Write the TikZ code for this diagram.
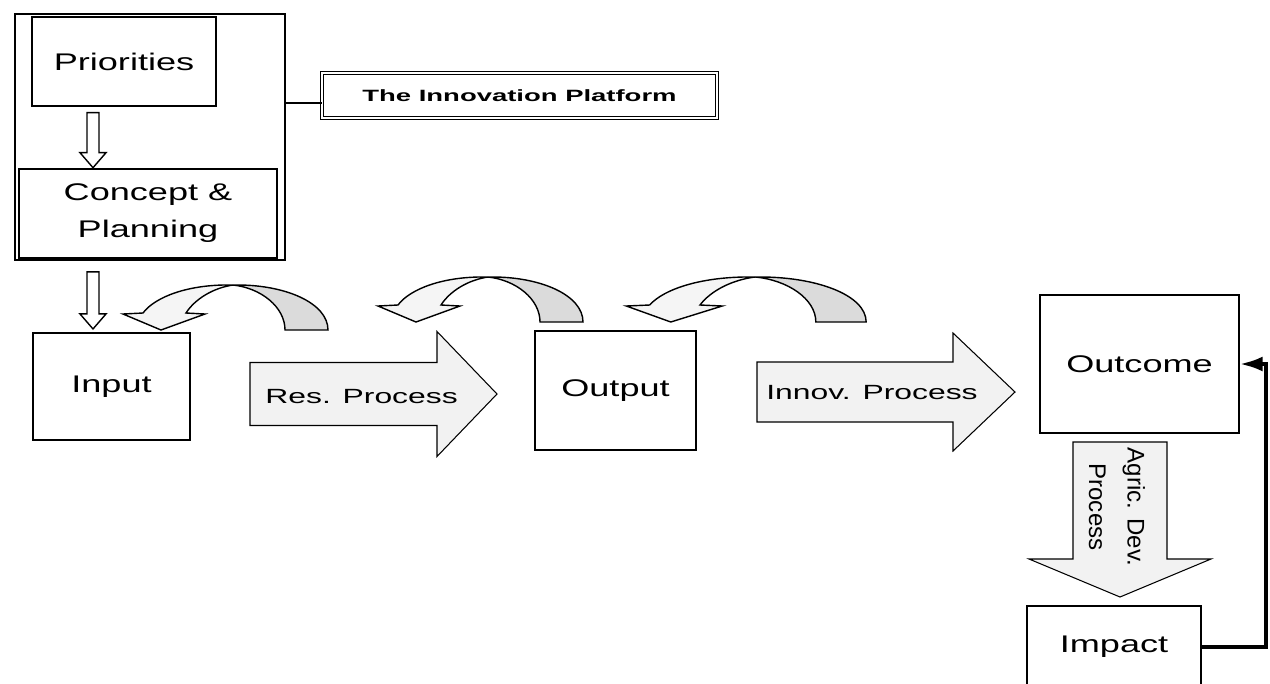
\documentclass[tikz,border=0pt]{standalone}
\usepackage{fontspec}
\setmainfont{Liberation Sans}
\usepackage{graphicx}
\usetikzlibrary{arrows.meta}
\newcommand{\wide}[2][1.5]{\scalebox{#1}[1]{#2}}

\begin{document}
\begin{tikzpicture}[x=0.02cm, y=-0.02cm,
    box/.style={draw, line width=0.8pt, inner sep=0pt, align=center,
      font=\fontsize{13.7}{21}\selectfont},
    proc/.style={inner sep=0pt, font=\fontsize{11.7}{14}\selectfont},
    flow/.style={draw, line width=0.6pt, fill=gray!10},
    hollow/.style={draw, line width=0.8pt, fill=white},
    pics/hollowdown/.style={code={
      \draw[hollow] (-6,0) -- (6,0) -- (6,#1-15) -- (13,#1-15) -- (0,#1)
        -- (-13,#1-15) -- (-6,#1-15) -- cycle;}},
    pics/block/.style n args={4}{code={
      \draw[flow] (0,-#2) -- (#1,-#2) -- (#1,-#3) -- (#1+#4,0) -- (#1,#3)
        -- (#1,#2) -- (0,#2) -- cycle;}},
    pics/loopback/.style={code={
      \draw[line width=0.8pt, fill=gray!28] (0,0) .. controls (52,-1) and (95,18) .. (95,45)
        -- (52,45) .. controls (52,22) and (28,3) .. (0,0) -- cycle;
      \draw[line width=0.8pt, fill=gray!8] (0,0) .. controls (-45,-1) and (-78,12) .. (-90,28)
        -- (-110,29) -- (-72,45) -- (-28,29) -- (-47,28)
        .. controls (-38,14) and (-20,3) .. (0,0) -- cycle;}}]

\useasboundingbox (0,0) rectangle (1270,683);
\clip (0,0) rectangle (1270,683);

\node[box, line width=1.1pt, minimum width=5.4cm, minimum height=4.92cm] (frame) at (150,137) {};
\node[box, minimum width=3.68cm, minimum height=1.78cm] (prio) at (124,61.5) {\wide{Priorities}};
\node[box, minimum width=5.16cm, minimum height=1.78cm] (concept) at (148,213.5)
  {\wide{Concept \&}\\\wide{Planning}};
\node[draw, double, double distance=1.2pt, line width=0.7pt, inner sep=0pt,
  minimum width=7.9cm, minimum height=0.9cm, font=\bfseries\fontsize{9.3}{11}\selectfont]
  (platform) at (519.5,95.5) {\wide[1.68]{The Innovation Platform}};
\coordinate (link) at (322,103);
\draw[line width=0.8pt] (frame.east |- link) -- (link);

\coordinate (lane) at (93,0);
\pic at ([yshift=-0.12cm]prio.south -| lane) {hollowdown=55};
\pic at ([yshift=-0.22cm]frame.south -| lane) {hollowdown=57};

\node[box, minimum width=3.14cm, minimum height=2.14cm] (input) at (111.5,386.5) {\wide{Input}};
\node[box, minimum width=3.22cm, minimum height=2.38cm] (output) at (615.5,390.5) {\wide{Output}};
\node[box, minimum width=3.98cm, minimum height=2.76cm] (outcome) at (1139.5,364) {\wide{Outcome}};
\node[box, minimum width=3.48cm, minimum height=1.64cm] (impact) at (1114,647) {\wide{Impact}};

\pic at (250,394) {block={187}{31.5}{62.5}{60}};
\node[proc, anchor=west] (res) at (265,397) {\wide[1.55]{Res. Process}};
\pic at (757,392) {block={196}{30}{59}{62}};
\node[proc, anchor=west] (innov) at (766,393) {\wide[1.55]{Innov. Process}};
\pic[rotate=-90] at (1120,442) {block={117}{47}{91}{38}};
\node[rotate=-90, align=center, inner sep=0pt, font=\fontsize{13.7}{22}\selectfont]
  (agric) at (1117,507) {Agric. Dev.\\Process};

\pic at (233,285) {loopback};
\pic at (488,277) {loopback};
\pic[xscale=1.17] at (755,277) {loopback};

\coordinate (rail) at (1266,0);
\draw[line width=2.2pt, -{Latex[length=0.46cm, width=0.3cm]}]
  (impact.east) -- (impact.east -| rail) -- (rail |- outcome.east) -- (outcome.east);
\end{tikzpicture}
\end{document}
